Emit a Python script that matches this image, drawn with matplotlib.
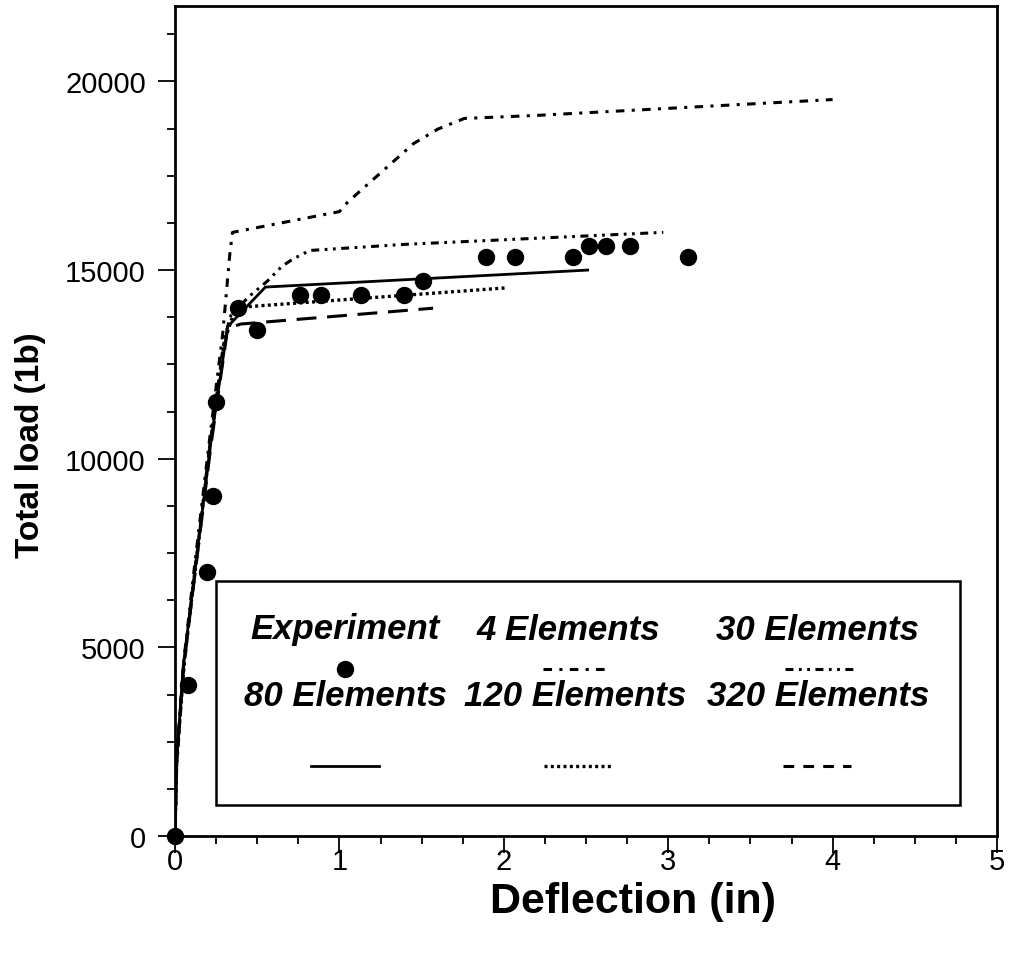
# load-deflection curves: experiment vs FE meshes
import matplotlib
matplotlib.use("Agg")
import matplotlib.pyplot as plt
from matplotlib.ticker import MultipleLocator
from matplotlib.patches import Rectangle
from matplotlib.lines import Line2D

plt.rcParams['font.family'] = ['Liberation Sans', 'DejaVu Sans']

# experiment points
exp_x = [0, 0.08, 0.195, 0.23, 0.25, 0.385, 0.5, 0.76, 0.89, 1.13, 1.39, 1.51,
         1.89, 2.07, 2.42, 2.52, 2.62, 2.77, 3.12]
exp_y = [0, 4000, 7000, 9000, 11500, 14000, 13400, 14350, 14350, 14350, 14350, 14700,
         15350, 15350, 15350, 15650, 15650, 15650, 15350]

# FE results
el4_x = [0, 0.01, 0.05, 0.12, 0.21, 0.29, 0.335, 0.35, 1.0, 1.05, 1.29, 1.45, 1.6, 1.76, 2.2, 4.0]
el4_y = [0, 2000, 4500, 7200, 10500, 13300, 15500, 16000, 16550, 16800, 17730, 18350, 18740, 19020, 19100, 19520]

el30_x = [0, 0.01, 0.05, 0.12, 0.21, 0.3, 0.34, 0.45, 0.56, 0.65, 0.72, 0.82, 1.39, 2.97]
el30_y = [0, 1800, 4300, 7000, 10300, 13200, 13800, 14300, 14700, 15100, 15300, 15520, 15680, 16000]

el80_x = [0, 0.01, 0.05, 0.12, 0.22, 0.32, 0.55, 2.51]
el80_y = [0, 2000, 4500, 7000, 10500, 13500, 14550, 15000]

el120_x = [0, 0.01, 0.06, 0.13, 0.22, 0.3, 0.36, 0.41, 2.02]
el120_y = [0, 2000, 4800, 7300, 10600, 13100, 13900, 14020, 14530]

el320_x = [0, 0.01, 0.05, 0.12, 0.22, 0.32, 0.4, 1.57]
el320_y = [0, 2000, 4400, 6900, 10400, 13450, 13570, 13990]

styles = {
    '4': dict(color='black', lw=2.2, dashes=(2.8, 2.4, 1.0, 2.4)),
    '30': dict(color='black', lw=2.2, dashes=(2.6, 1.8, 0.9, 1.8, 0.9, 1.8)),
    '80': dict(color='black', lw=2.0, ls='-'),
    '120': dict(color='black', lw=2.4, dashes=(0.9, 1.0)),
    '320': dict(color='black', lw=2.2, dashes=(6.5, 3.5)),
}

fig = plt.figure(figsize=(10.1, 9.62), dpi=100)
ax = fig.add_axes([175 / 1010, 1 - 837 / 962, 822 / 1010, 830 / 962])

ax.plot(el4_x, el4_y, **styles['4'])
ax.plot(el30_x, el30_y, **styles['30'])
ax.plot(el80_x, el80_y, **styles['80'])
ax.plot(el120_x, el120_y, **styles['120'])
ax.plot(el320_x, el320_y, **styles['320'])
ax.plot(exp_x, exp_y, 'o', color='black', ms=11.5, clip_on=False, zorder=5)

ax.set_xlim(0, 5)
ax.set_ylim(0, 22000)
ax.xaxis.set_major_locator(MultipleLocator(1))
ax.xaxis.set_minor_locator(MultipleLocator(0.25))
ax.yaxis.set_major_locator(MultipleLocator(5000))
ax.yaxis.set_minor_locator(MultipleLocator(1250))
ax.tick_params(which='major', direction='out', length=12, width=1.3, labelsize=21)
ax.tick_params(which='minor', direction='out', length=6, width=1.3)
ax.tick_params(axis='y', pad=9)
ax.tick_params(axis='x', pad=-4)
for s in ax.spines.values():
    s.set_linewidth(2)

# axis titles placed at the image spots
fig.text(633 / 1010, 1 - 902 / 962, 'Deflection (in)', fontsize=31, fontweight='bold',
         ha='center', va='center')
fig.text(31 / 1010, 1 - 445 / 962, 'Total load (1b)', fontsize=24, fontweight='bold',
         ha='center', va='center', rotation=90)

# hand-built legend box, positions in image pixels
def px(x, y):
    return (x - 175) / 822, (837 - y) / 830

x0, y0 = px(216, 806)
x1, y1 = px(960, 582)
ax.add_patch(Rectangle((x0, y0), x1 - x0, y1 - y0, transform=ax.transAxes,
                       facecolor='white', edgecolor='black', lw=1.8, zorder=6))

items = [('Experiment', None, 345, 630, 345, 670),
         ('4 Elements', '4', 568, 630, 577, 670),
         ('30 Elements', '30', 818, 630, 819, 670),
         ('80 Elements', '80', 345, 697, 345, 767),
         ('120 Elements', '120', 575, 697, 578, 767),
         ('320 Elements', '320', 818, 697, 817, 767)]
for label, key, tx, ty, sx, sy in items:
    ax.text(*px(tx, ty), label, transform=ax.transAxes, ha='center', va='center',
            fontsize=25, fontweight='bold', fontstyle='italic', zorder=7)
    if key is None:
        ax.add_line(Line2D([px(sx, sy)[0]], [px(sx, sy)[1]], marker='o', ms=11.5,
                           color='black', transform=ax.transAxes, zorder=7))
    else:
        a = px(sx - 34, sy)
        b = px(sx + 34, sy)
        st = dict(styles[key])
        if key == '320':
            st['dashes'] = (3.5, 3.0)
        ax.add_line(Line2D([a[0], b[0]], [a[1], b[1]], transform=ax.transAxes,
                           zorder=7, **st))

fig.savefig('out.png', dpi=100)
